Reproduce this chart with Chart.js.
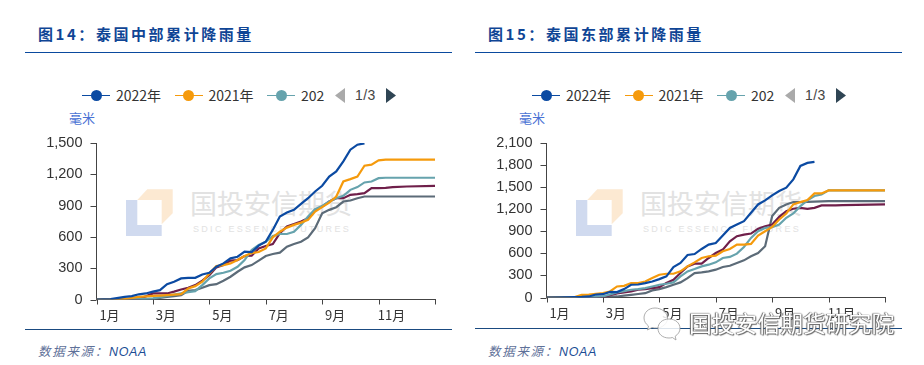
<!DOCTYPE html>
<html><head><meta charset="utf-8">
<script src="https://cdn.jsdelivr.net/npm/chart.js@4"></script>
<style>
html,body{margin:0;padding:0;background:#fff;width:924px;height:365px;overflow:hidden;font-family:"Liberation Sans",sans-serif}
.abs{position:absolute;white-space:nowrap}
.panel{position:absolute;top:0;width:450px;height:365px}
canvas{position:absolute;left:0;top:0}
</style></head><body>
<script>
const monthGrid=[0,0.5,1,1.25,1.5,1.75,2,2.25,2.5,2.75,3,3.25,3.5,3.75,4,4.25,4.5,4.75,5,5.25,5.5,5.75,6,6.25,6.5,6.75,7,7.25,7.5,7.75,8,8.25,8.5,8.75,9,9.25,9.5,9.75,10,10.25,10.5,11,12];
const xTickLabels=['1月','3月','5月','7月','9月','11月',''];
const seriesNames=['2022年','2021年','2020年','2019年','2018年'];
const seriesColors=['#0b4aa2','#f59a0c','#66a3ad','#6f1f4a','#5c6b78'];

const central2022=[0,3,25,32,50,58,75,90,147,170,202,208,208,240,256,314,346,394,410,458,455,516,554,667,795,833,859,917,971,1035,1090,1179,1227,1324,1436,1484,1497,null,null,null,null,null,null];
const central2021=[0,3,5,15,25,30,35,38,42,46,51,105,128,170,250,320,330,346,378,417,445,455,490,596,650,689,715,737,763,843,885,929,987,1131,1154,1179,1282,1292,1333,1340,1340,1340,1340];
const central2020=[0,1,2,3,3,6,10,22,35,46,58,70,80,138,202,244,256,276,314,378,474,522,554,609,628,628,650,715,795,865,897,939,971,994,1051,1077,1122,1131,1163,1167,1167,1167,1167];
const central2019=[0,3,5,5,5,30,58,58,58,75,96,112,138,180,234,308,330,372,378,417,420,490,513,532,635,699,724,747,779,859,891,939,971,971,1003,1010,1019,1067,1067,1070,1077,1083,1090];
const central2018=[0,1,2,2,3,3,3,16,25,33,42,83,90,112,138,147,180,218,266,308,330,372,417,436,449,506,532,554,596,683,827,859,885,939,949,971,987,987,987,987,987,987,987];

const east2022=[0,3,5,8,14,40,45,77,73,114,173,177,196,218,250,287,414,469,578,591,660,719,741,842,946,992,1037,1151,1265,1320,1388,1447,1492,1606,1788,1829,1843,null,null,null,null,null,null];
const east2021=[0,2,5,36,40,50,59,82,150,159,196,196,218,264,309,323,323,355,423,478,537,560,569,628,660,719,719,728,842,901,960,1060,1142,1265,1297,1324,1415,1415,1456,1456,1456,1456,1456];
const east2020=[0,1,2,3,3,8,14,40,68,86,105,114,127,150,173,187,205,287,355,387,423,446,478,537,551,596,687,810,901,946,955,992,1083,1142,1242,1320,1379,1401,1456,1456,1456,1456,1456];
const east2019=[0,2,3,4,5,5,5,30,55,68,82,105,114,127,141,196,241,332,423,460,460,537,605,651,764,833,855,869,933,969,992,1097,1174,1206,1219,1206,1219,1251,1251,1253,1255,1260,1265];
const east2018=[0,1,2,3,3,4,5,10,14,25,36,48,59,96,114,141,173,205,264,332,341,355,378,414,432,469,505,560,605,696,1106,1219,1265,1297,1297,1300,1303,1306,1310,1310,1310,1310,1310];

const centralTicks=[0,300,600,900,1200,1500];
const eastTicks=[0,300,600,900,1200,1500,1800,2100];
const centralTitle='图14\uFF1A泰国中部累计降雨量';
const eastTitle='图15\uFF1A泰国东部累计降雨量';
const sourceLabel='数据来源\uFF1A';
const sourceName='NOAA';
const unitLabel='毫米';
const legendShown=['2022年','2021年','202'];
const pageLabel='1/3';
const wmCn='国投安信期货';
const wmEn='SDIC ESSENCE FUTURES';
const overlayText='国投安信期货研究院';

const cjk='"Noto Sans CJK SC","Liberation Sans",sans-serif';
function el(parent,css,html){const d=document.createElement('div');d.className='abs';d.style.cssText=css;d.innerHTML=html||'';parent.appendChild(d);return d;}

function panel(left,title,data,ticks,yMax,bottom){
  const p=document.createElement('div');p.className='panel';p.style.left=left+'px';document.body.appendChild(p);
  el(p,'left:0;top:0','<svg width="450" height="365" style="position:absolute;left:0;top:0"><path d="M126 200H137.3V225H161.7V236H126Z" fill="#d0daef"/><path d="M137.3 200L147.3 189.3H172.7V213.3L161.7 224.3V200Z" fill="#fce9d2"/></svg>');
  el(p,'left:190px;top:185px;font:27px/36px '+cjk+';color:#e2e2e2',wmCn);
  el(p,'left:193px;top:222px;font:9px/14px "Liberation Sans";letter-spacing:2.3px;color:#e2e2e2',wmEn);
  el(p,'left:38px;top:22px;font:bold 15px/24px '+cjk+';letter-spacing:2.55px;color:#0f4595',title);
  el(p,'left:25px;top:52px;width:427px;height:1px;background:#0a4a9e');
  el(p,'left:25px;top:'+(left?328:329)+'px;width:427px;height:1px;background:#1a4a80');
  el(p,'left:38px;top:342px;font:italic 12.5px/18px '+cjk+';letter-spacing:1.7px;color:#5f7199',sourceLabel+'<span style="color:#1c4d94;font-family:\'Liberation Sans\';font-weight:400;letter-spacing:.6px">'+sourceName+'</span>');
  el(p,'left:69px;top:109px;font:13px/18px '+cjk+';color:#4a72d4',unitLabel);
  const xs=[82,174.5,267];
  legendShown.forEach((t,i)=>{
    el(p,'left:'+xs[i]+'px;top:95px;width:28px;height:1.4px;background:'+seriesColors[i]);
    el(p,'left:'+(xs[i]+8.5)+'px;top:90px;width:11px;height:11px;border-radius:50%;background:'+seriesColors[i]);
    el(p,'left:'+(xs[i]+34)+'px;top:85px;font:14px/20px '+cjk+';color:#333',t);
  });
  el(p,'left:0;top:0','<svg width="450" height="120" style="position:absolute;left:0;top:0"><path d="M345 88V103L335 95.5Z" fill="#aaa"/><path d="M386 88V103L396 95.5Z" fill="#2f4554"/></svg>');
  el(p,'left:355px;top:85px;font:14px/20px "Liberation Sans";letter-spacing:.4px;color:#444',pageLabel);
  const c=document.createElement('canvas');c.width=450;c.height=365;c.style.width='450px';c.style.height='365px';p.appendChild(c);
  new Chart(c,{type:'line',data:{datasets:data.map((d,i)=>({label:seriesNames[i],data:monthGrid.map((m,j)=>({x:m,y:d[j]})),borderColor:seriesColors[i],borderWidth:2.2,pointRadius:0,tension:0,order:i,spanGaps:false}))},
  options:{responsive:false,animation:false,layout:{padding:{top:143,right:15,left:0,bottom:365-bottom-30}},
    plugins:{legend:{display:false},tooltip:{enabled:false}},
    scales:{
      x:{type:'linear',min:0,max:12,afterFit:s=>{s.height=30},grid:{display:false},border:{color:'#444',width:1},
        afterBuildTicks:s=>{s.ticks=[0,2,4,6,8,10,12].map(v=>({value:v}))},
        ticks:{callback:(v)=>xTickLabels[v/2],autoSkip:false,maxRotation:0,labelOffset:13,padding:0,color:'#333',font:{family:cjk,size:13}}},
      y:{min:0,max:yMax,afterFit:s=>{s.width=96.5},afterBuildTicks:s=>{s.ticks=ticks.map(v=>({value:v}))},
        grid:{display:false},border:{color:'#444',width:1},
        ticks:{callback:v=>String(v).replace(/\B(?=(\d{3})+$)/,','),color:'#333',padding:6,font:{family:'"Liberation Sans"',size:14.5}}}
    }},
  plugins:[{id:'axisTickMarks',afterDraw(ch){const g=ch.ctx,y=ch.scales.y,x=ch.scales.x;g.save();g.strokeStyle='#444';g.lineWidth=1;g.beginPath();
    ticks.forEach(v=>{const py=Math.round(y.getPixelForValue(v))+.5;g.moveTo(ch.chartArea.left-6,py);g.lineTo(ch.chartArea.left,py)});
    [0,2,4,6,8,10,12].forEach(v=>{const px=Math.round(x.getPixelForValue(v))+.5;g.moveTo(px,ch.chartArea.bottom);g.lineTo(px,ch.chartArea.bottom+5)});
    g.stroke();g.restore();}}]});
}
panel(0,centralTitle,[central2022,central2021,central2020,central2019,central2018],centralTicks,1500,299.5);
panel(450,eastTitle,[east2022,east2021,east2020,east2019,east2018],eastTicks,2100,297.5);
el(document.body,'left:0;top:0','<svg width="924" height="365" style="position:absolute;left:0;top:0"><g fill="rgba(255,255,255,.85)" stroke="#999" stroke-width=".8"><path d="M655 308c-6.500 0-11 4.500-11 10 0 3.500 2 6 4.500 8l-1 4 4.500-2.500c1.500.5 3 .5 4.500.5 6 0 11-4.500 11-10s-6-10-12.500-10z"/><path d="M669 319c-6.500 0-11 4-11 9.500s4.500 9.500 11 9.500c1.200 0 2.300-.2 3.400-.5l3.600 2.500-.8-3.800c2.800-1.800 4.800-4.500 4.800-7.700 0-5.500-4.500-9.500-11-9.500z"/></g></svg>');
el(document.body,'left:689px;top:308px;font:22.8px/30px '+cjk+';color:#fff;text-shadow:0 0 1px #555,1px 1px 1px #666,-1px 0 1px #666',overlayText);
</script>
</body></html>
